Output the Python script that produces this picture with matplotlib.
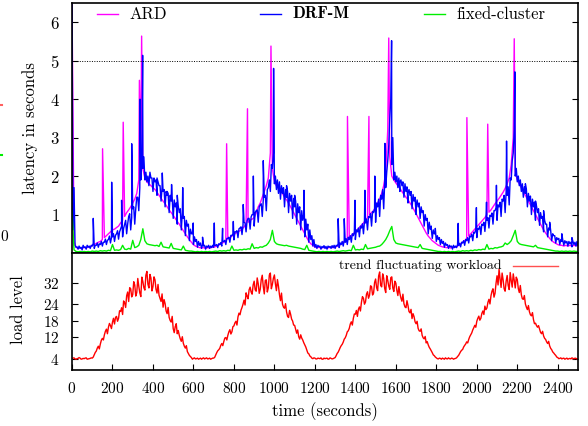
import numpy as np
import matplotlib.pyplot as plt
from matplotlib.lines import Line2D

plt.rcParams['font.family'] = ['cmr10', 'DejaVu Serif']
plt.rcParams['axes.formatter.use_mathtext'] = True

# sample times (seconds): one value every 10 s, plus the in-between samples at +5 s
t_grid = np.arange(0, 2501, 10)
t_half = np.arange(5, 2500, 10)

# latency (s) of DRF-M, lower samples every 10 s
drf_base = [
    6.5, 1.7, 0.15, 0.1, 0.12, 0.08, 0.14, 0.1, 0.15, 0.12,
    0.18, 0.12, 0.2, 0.15, 0.22, 0.18, 0.28, 0.22, 0.35, 0.26,
    0.42, 0.3, 0.5, 0.36, 0.62, 0.42, 0.75, 0.5, 0.95, 0.6,
    1.15, 0.75, 1.45, 1.1, 1.9, 2.2, 1.9, 1.85, 1.75, 1.95,
    1.6, 1.85, 1.5, 1.75, 1.35, 1.6, 1.2, 1.5, 1.05, 1.35,
    0.9, 1.2, 0.75, 1.05, 0.6, 0.9, 0.45, 0.7, 0.32, 0.5,
    0.22, 0.3, 0.15, 0.2, 0.12, 0.18, 0.1, 0.15, 0.12, 0.14,
    0.15, 0.2, 0.14, 0.22, 0.18, 0.3, 0.22, 0.38, 0.28, 0.45,
    0.34, 0.55, 0.4, 0.65, 0.48, 0.8, 0.55, 0.9, 0.62, 1.0,
    0.7, 1.1, 0.8, 1.25, 0.95, 1.45, 1.1, 1.7, 1.6, 2.2,
    1.8, 1.65, 1.55, 1.4, 1.55, 1.2, 1.45, 1.05, 1.35, 0.9,
    1.2, 0.75, 1.05, 0.6, 0.85, 0.42, 0.6, 0.28, 0.35, 0.18,
    0.15, 0.12, 0.16, 0.1, 0.14, 0.12, 0.1, 0.15, 0.12, 0.14,
    0.12, 0.18, 0.14, 0.22, 0.18, 0.28, 0.22, 0.35, 0.28, 0.45,
    0.35, 0.55, 0.42, 0.65, 0.5, 0.78, 0.6, 0.92, 0.7, 1.05,
    0.8, 1.2, 0.95, 1.4, 1.15, 1.7, 2.4, 3.5, 2.3, 1.9,
    1.85, 1.7, 1.6, 1.75, 1.45, 1.6, 1.3, 1.5, 1.15, 1.35,
    1.0, 1.2, 0.9, 1.05, 0.7, 0.85, 0.5, 0.62, 0.38, 0.5,
    0.3, 0.35, 0.22, 0.25, 0.15, 0.2, 0.12, 0.16, 0.1, 0.14,
    0.14, 0.2, 0.16, 0.26, 0.2, 0.32, 0.26, 0.42, 0.32, 0.52,
    0.4, 0.62, 0.48, 0.72, 0.56, 0.85, 0.65, 0.95, 0.75, 1.1,
    0.85, 1.2, 0.95, 1.35, 1.05, 1.5, 1.25, 1.9, 2.6, 2.0,
    1.85, 1.75, 1.6, 1.45, 1.55, 1.2, 1.35, 1.0, 1.2, 0.85,
    1.05, 0.72, 0.9, 0.55, 0.75, 0.42, 0.6, 0.32, 0.45, 0.26,
    0.35, 0.22, 0.3, 0.2, 0.26, 0.18, 0.24, 0.16, 0.22, 0.18,
    0.2,
]
# DRF-M upper tips, read at 5, 15, 25 ... s
drf_tip = [
    0.6, 0.2, 0.16, 0.18, 0.15, 0.2, 0.16, 0.2, 0.18, 0.2,
    0.25, 0.2, 0.26, 0.24, 0.3, 0.28, 0.36, 0.33, 0.44, 0.4,
    0.5, 0.46, 0.58, 0.55, 0.7, 0.64, 0.85, 0.75, 1.02, 0.92,
    1.2, 1.15, 1.45, 1.7, 2.4, 2.5, 2.1, 2.0, 2.1, 1.95,
    1.95, 1.9, 1.85, 1.75, 1.7, 1.65, 1.6, 1.55, 1.5, 1.45,
    1.38, 1.3, 1.22, 1.15, 1.05, 0.95, 0.85, 0.75, 0.62, 0.5,
    0.42, 0.35, 0.3, 0.26, 0.22, 0.2, 0.18, 0.2, 0.18, 0.2,
    0.2, 0.22, 0.24, 0.27, 0.3, 0.33, 0.38, 0.41, 0.46, 0.5,
    0.55, 0.58, 0.63, 0.68, 0.73, 0.78, 0.84, 0.9, 0.94, 1.0,
    1.05, 1.12, 1.2, 1.28, 1.38, 1.5, 1.65, 1.9, 2.3, 2.6,
    2.0, 1.9, 1.85, 1.75, 1.7, 1.65, 1.6, 1.55, 1.5, 1.42,
    1.35, 1.28, 1.2, 1.1, 1.0, 0.88, 0.75, 0.6, 0.45, 0.35,
    0.22, 0.2, 0.18, 0.17, 0.19, 0.17, 0.18, 0.17, 0.19, 0.2,
    0.2, 0.24, 0.26, 0.3, 0.33, 0.37, 0.41, 0.45, 0.5, 0.54,
    0.6, 0.65, 0.7, 0.76, 0.82, 0.88, 0.95, 1.02, 1.08, 1.15,
    1.3, 1.4, 1.5, 1.65, 1.85, 2.1, 2.8, 4.0, 3.0, 2.1,
    2.0, 1.95, 1.9, 1.85, 1.8, 1.72, 1.65, 1.6, 1.52, 1.45,
    1.38, 1.3, 1.2, 1.1, 1.0, 0.9, 0.8, 0.7, 0.6, 0.5,
    0.45, 0.4, 0.35, 0.3, 0.26, 0.22, 0.2, 0.18, 0.2, 0.18,
    0.22, 0.25, 0.28, 0.32, 0.35, 0.4, 0.44, 0.49, 0.54, 0.6,
    0.64, 0.7, 0.75, 0.8, 0.86, 0.92, 0.98, 1.04, 1.1, 1.18,
    1.25, 1.32, 1.4, 1.5, 1.6, 1.72, 1.95, 2.4, 3.2, 2.2,
    2.0, 1.9, 1.8, 1.72, 1.65, 1.55, 1.48, 1.4, 1.32, 1.22,
    1.15, 1.05, 0.95, 0.85, 0.75, 0.65, 0.58, 0.5, 0.45, 0.4,
    0.38, 0.35, 0.33, 0.32, 0.3, 0.3, 0.28, 0.3, 0.28, 0.3,
]
# tall DRF-M spikes
drf_spike_t = [105, 196, 245, 295, 336, 349, 420, 446, 470, 492, 520, 547,
               599, 645, 703, 744, 797, 846, 896, 945, 996, 1060, 1100, 1146,
               1315, 1345, 1398, 1447, 1496, 1546, 1579, 1620, 1660, 1700, 1775, 1795,
               1908, 1998, 2048, 2097, 2147, 2188, 2240, 2290, 2330, 2360, 2420, 2470]
drf_spike_v = [0.9, 1.84, 1.37, 2.84, 4.0, 5.14, 1.95, 2.08, 1.6, 1.78, 1.5, 1.7,
               0.78, 0.41, 0.78, 0.64, 0.82, 1.26, 2.0, 2.4, 4.8, 1.75, 1.5, 1.63,
               0.89, 0.89, 1.37, 1.63, 2.0, 2.85, 5.52, 1.84, 1.55, 1.2, 0.64, 0.64,
               0.77, 1.18, 1.32, 1.76, 2.91, 4.71, 1.8, 1.35, 1.1, 0.8, 0.5, 0.4]

# latency (s) of ARD, read every 10 s
ard_base = [
    6.5, 0.3, 0.15, 0.12, 0.14, 0.12, 0.15, 0.13, 0.16, 0.15,
    0.2, 0.22, 0.25, 0.28, 0.3, 0.35, 0.4, 0.45, 0.5, 0.55,
    0.6, 0.62, 0.66, 0.7, 0.78, 0.85, 0.95, 1.05, 1.12, 1.2,
    1.3, 1.4, 1.55, 1.9, 2.6, 2.2, 1.95, 1.85, 1.8, 1.75,
    1.7, 1.65, 1.58, 1.5, 1.42, 1.35, 1.28, 1.2, 1.12, 1.05,
    0.98, 0.9, 0.82, 0.75, 0.66, 0.58, 0.5, 0.42, 0.35, 0.28,
    0.22, 0.18, 0.16, 0.14, 0.13, 0.14, 0.12, 0.14, 0.13, 0.15,
    0.15, 0.17, 0.19, 0.22, 0.25, 0.28, 0.32, 0.36, 0.4, 0.44,
    0.48, 0.52, 0.55, 0.58, 0.62, 0.68, 0.75, 0.8, 0.85, 0.88,
    0.92, 1.05, 1.2, 1.3, 1.45, 1.6, 1.75, 1.95, 2.6, 2.2,
    1.85, 1.75, 1.7, 1.62, 1.55, 1.45, 1.38, 1.3, 1.2, 1.1,
    1.0, 0.9, 0.8, 0.7, 0.6, 0.5, 0.4, 0.3, 0.24, 0.2,
    0.16, 0.14, 0.15, 0.13, 0.14, 0.15, 0.13, 0.14, 0.15, 0.14,
    0.15, 0.18, 0.2, 0.24, 0.28, 0.32, 0.36, 0.4, 0.45, 0.5,
    0.55, 0.6, 0.66, 0.72, 0.78, 0.85, 0.92, 1.0, 1.05, 1.1,
    1.2, 1.3, 1.4, 1.55, 1.75, 2.1, 3.2, 2.5, 2.0, 1.9,
    1.82, 1.75, 1.68, 1.6, 1.52, 1.45, 1.38, 1.3, 1.22, 1.12,
    1.02, 0.92, 0.82, 0.72, 0.62, 0.52, 0.44, 0.38, 0.32, 0.28,
    0.24, 0.2, 0.18, 0.16, 0.15, 0.14, 0.15, 0.13, 0.14, 0.15,
    0.16, 0.2, 0.24, 0.28, 0.32, 0.38, 0.44, 0.5, 0.56, 0.62,
    0.68, 0.74, 0.8, 0.86, 0.92, 1.0, 1.06, 1.12, 1.2, 1.28,
    1.35, 1.42, 1.5, 1.58, 1.68, 1.8, 1.95, 2.3, 3.0, 2.1,
    1.9, 1.8, 1.7, 1.6, 1.5, 1.4, 1.3, 1.2, 1.1, 1.0,
    0.9, 0.8, 0.7, 0.6, 0.52, 0.45, 0.38, 0.32, 0.28, 0.25,
    0.22, 0.2, 0.2, 0.18, 0.2, 0.18, 0.2, 0.18, 0.2, 0.19,
    0.2,
]
ard_spike_t = [151, 253, 333, 344, 764, 867, 983, 1361, 1467, 1565, 1951, 2054, 2185]
ard_spike_v = [2.71, 3.4, 4.49, 5.64, 2.84, 3.75, 5.38, 3.55, 3.55, 5.59, 3.52, 3.35, 5.57]

# latency (s) of fixed-cluster, read every 10 s
fixed_base = [
    1.1, 0.08, 0.04, 0.03, 0.04, 0.03, 0.04, 0.03, 0.04, 0.03,
    0.05, 0.04, 0.05, 0.04, 0.06, 0.05, 0.06, 0.05, 0.07, 0.06,
    0.22, 0.07, 0.08, 0.07, 0.09, 0.2, 0.1, 0.09, 0.12, 0.1,
    0.33, 0.14, 0.16, 0.2, 0.35, 0.63, 0.32, 0.24, 0.22, 0.21,
    0.2, 0.19, 0.2, 0.17, 0.28, 0.16, 0.15, 0.14, 0.13, 0.25,
    0.12, 0.11, 0.1, 0.09, 0.08, 0.18, 0.07, 0.06, 0.05, 0.05,
    0.04, 0.03, 0.04, 0.03, 0.04, 0.03, 0.04, 0.03, 0.04, 0.03,
    0.04, 0.05, 0.04, 0.06, 0.05, 0.06, 0.05, 0.07, 0.06, 0.18,
    0.07, 0.08, 0.07, 0.09, 0.08, 0.1, 0.09, 0.11, 0.1, 0.24,
    0.12, 0.14, 0.13, 0.16, 0.15, 0.18, 0.2, 0.26, 0.35, 0.59,
    0.3, 0.24, 0.22, 0.21, 0.2, 0.19, 0.2, 0.18, 0.17, 0.16,
    0.15, 0.14, 0.13, 0.12, 0.1, 0.09, 0.2, 0.07, 0.06, 0.05,
    0.04, 0.03, 0.04, 0.03, 0.04, 0.03, 0.04, 0.03, 0.04, 0.03,
    0.04, 0.05, 0.04, 0.05, 0.06, 0.05, 0.06, 0.07, 0.06, 0.2,
    0.08, 0.09, 0.08, 0.1, 0.09, 0.22, 0.11, 0.12, 0.13, 0.14,
    0.15, 0.17, 0.18, 0.22, 0.28, 0.35, 0.45, 0.58, 0.69, 0.35,
    0.26, 0.24, 0.23, 0.22, 0.21, 0.2, 0.19, 0.18, 0.17, 0.16,
    0.15, 0.14, 0.22, 0.12, 0.11, 0.1, 0.09, 0.08, 0.07, 0.06,
    0.05, 0.04, 0.04, 0.03, 0.04, 0.03, 0.04, 0.03, 0.04, 0.03,
    0.04, 0.05, 0.04, 0.06, 0.05, 0.06, 0.05, 0.07, 0.06, 0.08,
    0.07, 0.09, 0.08, 0.1, 0.09, 0.22, 0.1, 0.12, 0.11, 0.14,
    0.13, 0.15, 0.16, 0.18, 0.26, 0.22, 0.26, 0.32, 0.45, 0.59,
    0.3, 0.24, 0.22, 0.21, 0.2, 0.19, 0.18, 0.17, 0.16, 0.2,
    0.14, 0.13, 0.12, 0.11, 0.1, 0.09, 0.08, 0.07, 0.06, 0.05,
    0.05, 0.04, 0.05, 0.04, 0.05, 0.04, 0.05, 0.04, 0.05, 0.04,
    0.04,
]

# workload level every 10 s
load = [
    4.0, 4.3, 3.8, 4.1, 4.2, 3.9, 4.0, 4.3, 3.9, 4.1,
    4.2, 5.5, 6.8, 8.6, 9.4, 11.5, 12.8, 14.9, 15.6, 16.2,
    17.5, 16.8, 19.6, 18.9, 21.4, 20.3, 24.6, 27.2, 25.1, 29.8,
    27.6, 31.2, 28.4, 30.7, 26.9, 32.5, 29.3, 36.2, 30.1, 33.8,
    30.6, 33.1, 28.2, 27.4, 25.1, 23.0, 24.3, 20.6, 19.2, 17.5,
    15.1, 15.8, 13.2, 12.6, 10.4, 9.7, 7.9, 6.6, 5.2, 4.4,
    4.1, 3.9, 4.2, 4.0, 3.8, 4.3, 4.1, 3.9, 4.2, 4.0,
    4.2, 5.4, 6.9, 7.8, 9.6, 10.3, 11.8, 12.6, 14.7, 13.9,
    16.1, 17.8, 19.4, 20.2, 22.9, 25.6, 28.3, 26.1, 30.4, 27.8,
    32.6, 28.9, 31.7, 29.6, 34.8, 27.9, 33.1, 30.2, 35.6, 31.4,
    34.9, 29.1, 30.8, 25.4, 24.1, 22.6, 21.3, 19.2, 20.4, 17.9,
    16.3, 13.4, 12.1, 12.8, 10.9, 9.1, 7.2, 5.8, 4.7, 4.0,
    4.2, 3.9, 4.1, 4.3, 3.8, 4.0, 4.2, 3.9, 4.1, 4.0,
    4.4, 5.9, 7.2, 8.8, 10.1, 11.7, 13.9, 15.2, 17.6, 18.9,
    20.4, 19.6, 23.1, 24.8, 26.3, 24.9, 28.7, 27.4, 30.6, 28.2,
    33.4, 29.1, 36.0, 30.5, 33.7, 28.4, 32.9, 29.6, 34.2, 28.8,
    31.9, 27.3, 28.1, 25.2, 24.3, 22.8, 23.6, 20.9, 18.8, 19.5,
    16.9, 15.2, 14.1, 12.6, 11.3, 9.8, 9.1, 7.6, 6.2, 5.1,
    4.3, 3.9, 4.1, 4.2, 3.8, 4.0, 4.3, 3.9, 4.1, 4.0,
    4.3, 5.2, 6.6, 7.4, 8.9, 10.2, 11.1, 12.8, 14.6, 16.3,
    17.8, 19.7, 18.9, 21.6, 23.4, 22.7, 25.9, 27.2, 29.8, 28.1,
    34.6, 37.0, 30.3, 33.1, 28.9, 34.7, 29.5, 32.8, 35.3, 30.1,
    33.2, 28.4, 27.6, 25.9, 24.2, 22.1, 21.3, 19.8, 18.4, 17.1,
    15.6, 14.9, 13.2, 12.4, 11.1, 9.6, 8.7, 7.3, 6.1, 5.2,
    4.4, 4.1, 3.9, 4.2, 4.0, 3.8, 4.1, 4.3, 3.9, 4.1,
    4.0,
]
# workload level at 5, 15, 25 ... s
load_half = [
    4.2, 3.9, 4.0, 4.4, 3.8, 4.1, 4.2, 3.8, 4.0, 4.3,
    4.6, 6.3, 7.9, 7.6, 10.8, 10.9, 14.1, 13.2, 17.0, 15.1,
    18.9, 19.2, 17.8, 21.7, 22.8, 25.3, 22.9, 28.6, 30.2, 26.8,
    32.4, 27.1, 33.6, 28.3, 34.1, 30.2, 34.8, 31.5, 35.1, 29.0,
    34.2, 29.6, 31.4, 26.2, 27.9, 25.8, 21.6, 22.9, 18.1, 19.6,
    13.6, 16.9, 14.4, 11.3, 12.1, 8.6, 8.8, 5.9, 4.8, 3.8,
    4.3, 4.0, 3.8, 4.2, 4.1, 3.9, 4.3, 4.0, 3.8, 4.2,
    4.5, 6.2, 7.3, 8.9, 8.8, 11.6, 10.9, 13.9, 13.1, 15.8,
    17.2, 16.4, 20.8, 21.9, 24.1, 23.8, 27.1, 29.4, 28.6, 31.2,
    29.4, 33.8, 28.1, 33.2, 30.6, 32.9, 28.6, 34.9, 29.8, 33.7,
    31.6, 33.2, 27.6, 28.2, 23.0, 24.3, 19.6, 21.8, 18.6, 16.4,
    14.8, 14.6, 11.2, 11.6, 9.9, 8.3, 6.1, 5.0, 4.2, 4.3,
    3.9, 4.2, 4.0, 3.8, 4.2, 4.1, 3.8, 4.3, 3.9, 4.2,
    5.1, 6.4, 8.1, 9.3, 11.2, 12.6, 14.3, 16.8, 16.4, 20.5,
    21.8, 22.2, 21.6, 26.9, 24.1, 27.8, 26.3, 30.9, 27.5, 32.1,
    30.2, 34.5, 31.0, 35.3, 29.9, 34.6, 30.8, 33.9, 30.1, 32.6,
    29.2, 30.6, 26.4, 27.8, 23.1, 25.4, 21.4, 22.2, 20.6, 17.6,
    17.8, 14.3, 15.0, 11.7, 12.2, 10.3, 8.2, 6.9, 5.4, 4.6,
    4.0, 4.2, 3.8, 4.0, 4.3, 3.9, 4.0, 4.2, 3.8, 4.1,
    4.8, 5.9, 7.1, 8.3, 9.4, 9.8, 12.1, 13.5, 15.4, 15.6,
    18.9, 18.2, 20.7, 20.3, 22.1, 24.8, 24.2, 28.9, 26.7, 31.8,
    31.2, 33.4, 35.6, 29.8, 32.6, 31.0, 35.8, 30.4, 32.9, 34.1,
    29.9, 31.0, 26.1, 27.3, 23.0, 23.6, 20.2, 21.0, 16.9, 16.2,
    16.2, 13.7, 14.1, 11.5, 10.2, 10.4, 7.8, 6.5, 5.6, 4.6,
    4.0, 4.3, 4.1, 3.8, 4.2, 4.0, 3.9, 4.1, 4.2, 3.9,
]

lat_ticks = [1, 2, 3, 4, 5, 6]
load_ticks = [4, 12, 18, 24, 32]
time_ticks = list(range(0, 2401, 200))


def merge(*parts):
    # parts: (times, values) pairs, joined in time order
    tt = np.concatenate([np.asarray(p[0], float) for p in parts])
    vv = np.concatenate([np.asarray(p[1], float) for p in parts])
    order = np.argsort(tt, kind="stable")
    return tt[order], vv[order]


W, H = 588, 426
fig = plt.figure(figsize=(W / 100, H / 100), dpi=100)
left, right = 72 / W, 578 / W
ax1 = fig.add_axes([left, 1 - 253 / H, right - left, 250 / H])
ax2 = fig.add_axes([left, 1 - 369.5 / H, right - left, 116.5 / H])

t_ard, v_ard = merge((t_grid, ard_base), (ard_spike_t, ard_spike_v))
t_drf, v_drf = merge((t_grid, drf_base), (t_half, drf_tip), (drf_spike_t, drf_spike_v))
ax1.plot(t_ard, v_ard, color="#ff00ff", lw=1.0)
ax1.plot(t_drf, v_drf, color="#0000ff", lw=1.0)
ax1.plot(t_grid, fixed_base, color="#00ee00", lw=1.0)
ax1.axhline(5, color="black", ls=(0, (1, 1.5)), lw=0.7)

ax1.set_xlim(0, 2500)
ax1.set_ylim(0, 6.5)
ax1.set_yticks(lat_ticks)
ax1.set_xticks([])
ax1.tick_params(axis="y", direction="in", right=True, length=4, pad=9, labelsize=12)
ax1.set_ylabel("latency in seconds", fontsize=12)
ax1.yaxis.set_label_coords(-0.067, 0.5)

# legend keys placed by hand (gnuplot style, equal spacing)
key_y = 0.956
keys = [("ARD", "#ff00ff", 97, "cmr10"),
        ("DRF-M", "#0000ff", 260, "cmb10"),
        ("fixed-cluster", "#00ee00", 424, "cmr10")]
for label, col, x0, fam in keys:
    xa = (x0 - 72) / 506
    xb = (x0 + 21 - 72) / 506
    ax1.add_line(Line2D([xa, xb], [key_y, key_y], color=col, lw=1.0, transform=ax1.transAxes))
    ax1.text((x0 + 32 - 72) / 506, key_y, label, transform=ax1.transAxes, fontsize=12,
             family=fam, va="center", ha="left")

t_load, v_load = merge((t_grid, load), (t_half, load_half))
ax2.plot(t_load, v_load, color="red", lw=1.0)
ax2.set_xlim(0, 2500)
ax2.set_ylim(0, 43)
ax2.set_yticks(load_ticks)
ax2.set_xticks(time_ticks)
ax2.tick_params(axis="y", direction="in", right=True, length=4, pad=9, labelsize=11)
ax2.tick_params(axis="x", direction="in", length=4, pad=8, labelsize=11)
ax2.set_ylabel("load level", fontsize=12)
ax2.yaxis.set_label_coords(-0.091, 0.51)
ax2.set_xlabel("time (seconds)", fontsize=12)
ax2.xaxis.set_label_coords(0.5, -0.28)

ky2 = (369.5 - 265.5) / 116.5
ax2.text((502 - 72) / 506, ky2, "trend fluctuating workload", transform=ax2.transAxes,
         fontsize=10, ha="right", va="center")
ax2.add_line(Line2D([(513 - 72) / 506, (558 - 72) / 506], [ky2, ky2], color="#ff5050", lw=1.0,
                    transform=ax2.transAxes))

for ax in (ax1, ax2):
    for s in ax.spines.values():
        s.set_linewidth(1.2)

# cut-off remains of a neighbouring figure at the far left
fig.text(0.0, 1 - 237 / H, "0", fontsize=11, va="center", ha="left")
fig.add_artist(Line2D([0, 2 / W], [1 - 105 / H] * 2, color="#ff6060", lw=1.5))
fig.add_artist(Line2D([0, 2 / W], [1 - 155 / H] * 2, color="#00ee00", lw=1.5))

fig.savefig("out.png", dpi=100)
